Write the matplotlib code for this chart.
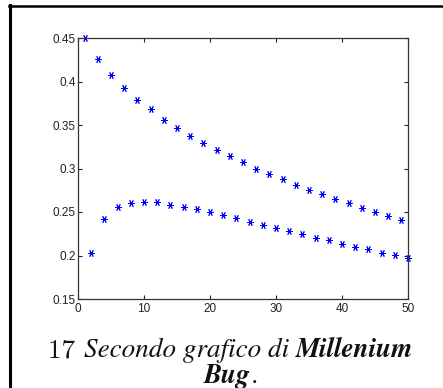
import matplotlib
matplotlib.use("Agg")
import matplotlib.pyplot as plt
from matplotlib.lines import Line2D

# dati (serie alternata: x dispari in alto, x pari in basso)
x_odd = list(range(1, 50, 2))
y_odd = [0.450, 0.4255, 0.407, 0.392, 0.379, 0.368, 0.356, 0.347, 0.3375, 0.329,
         0.321, 0.314, 0.307, 0.300, 0.294, 0.2878, 0.2816, 0.2755, 0.2702, 0.2652,
         0.2598, 0.2541, 0.2495, 0.2453, 0.2411]
x_even = list(range(2, 51, 2))
y_even = [0.2028, 0.2423, 0.2556, 0.2606, 0.2617, 0.261, 0.2583, 0.2556, 0.2533, 0.2499,
          0.246, 0.2426, 0.2384, 0.2346, 0.2311, 0.2281, 0.2243, 0.2204, 0.2174, 0.2136,
          0.2101, 0.2071, 0.2028, 0.2006, 0.1967]
xticks = [0, 10, 20, 30, 40, 50]
yticks = [0.15, 0.2, 0.25, 0.3, 0.35, 0.4, 0.45]
yticklabels = ["0.15", "0.2", "0.25", "0.3", "0.35", "0.4", "0.45"]

W, H = 443, 388
fig = plt.figure(figsize=(W / 100, H / 100), dpi=100)
ax = fig.add_axes([78 / W, 1 - 299 / H, 330 / W, 261 / H])

for xs, ys in [(x_odd, y_odd), (x_even, y_even)]:
    ax.plot(xs, ys, linestyle="none", marker=(6, 2, 90), markersize=5,
            markeredgewidth=0.7, color="#0000ff", clip_on=False)

ax.set_xlim(0, 50)
ax.set_ylim(0.15, 0.45)
ax.set_xticks(xticks)
ax.set_yticks(yticks)
ax.set_yticklabels(yticklabels)
ax.tick_params(direction="in", top=True, right=True, length=3, width=0.8,
               labelsize=8.5, colors="#222222")
ax.tick_params(axis="x", pad=3)
ax.tick_params(axis="y", pad=1.5)
for lab in ax.get_xticklabels() + ax.get_yticklabels():
    lab.set_family("Liberation Sans")
for s in ax.spines.values():
    s.set_color("#333333")
    s.set_linewidth(0.9)

# cornice della pagina
fig.add_artist(Line2D([10 / W, 10 / W], [0, 1 - 5 / H], color="black", lw=2.2,
                      transform=fig.transFigure))
fig.add_artist(Line2D([9 / W, 1], [1 - 6 / H, 1 - 6 / H], color="black", lw=1.8,
                      transform=fig.transFigure))

# didascalia: pezzi con stili diversi, affiancati e centrati
renderer = fig.canvas.get_renderer()
fs = 19.5


def caption_line(pieces, cx, y):
    texts = []
    for s, fam, style, weight in pieces:
        t = fig.text(0, y, s, family=fam, style=style, weight=weight, fontsize=fs,
                     color="#111111", va="baseline", ha="left")
        texts.append(t)
    widths = [t.get_window_extent(renderer).width for t in texts]
    x = cx - sum(widths) / 2
    for t, w in zip(texts, widths):
        t.set_x(x / W)
        x += w


caption_line([("17 ", "cmr10", "normal", "normal"),
              ("Secondo grafico di ", "STIXGeneral", "italic", "normal"),
              ("Millenium", "STIXGeneral", "italic", "bold")],
             231, 1 - 357 / H)
caption_line([("Bug", "STIXGeneral", "italic", "bold"),
              (".", "cmr10", "normal", "normal")],
             231, 1 - 383 / H)

fig.savefig("out.png", dpi=100)
